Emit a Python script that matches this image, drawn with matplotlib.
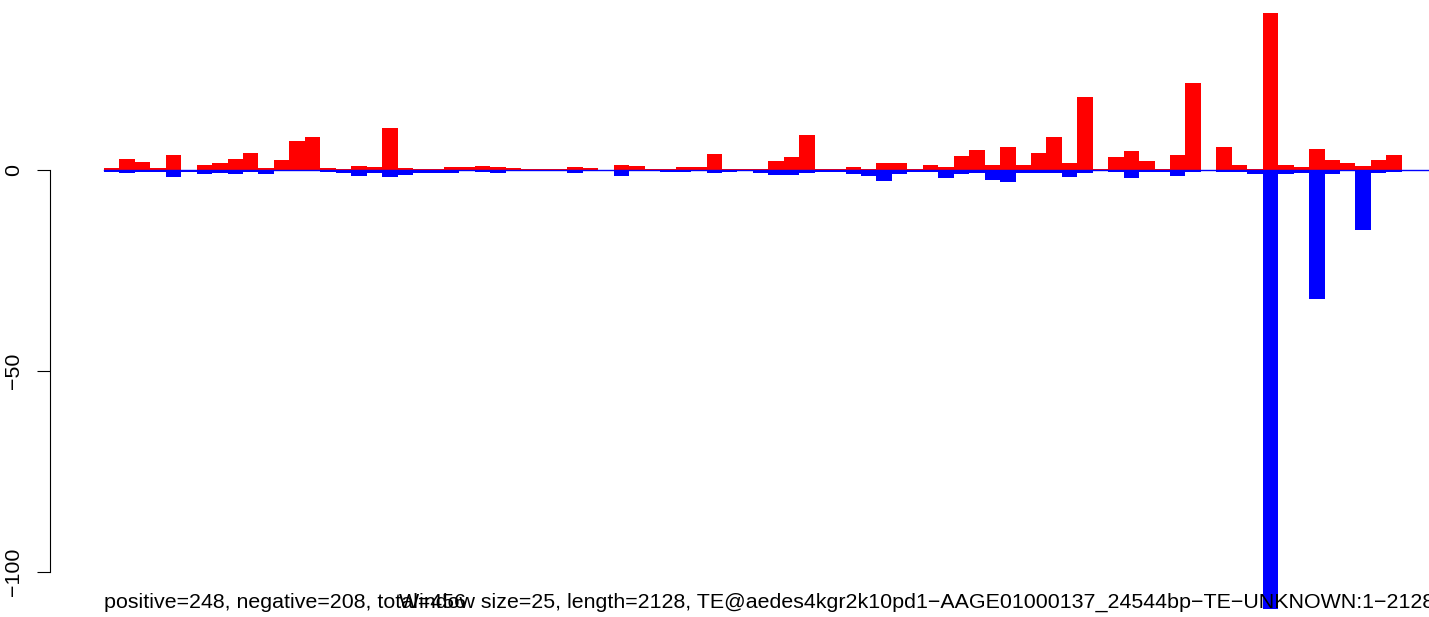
import numpy as np
import matplotlib
matplotlib.use("Agg")
import matplotlib.pyplot as plt

# per-window counts (window size 25)
positive = [
    0.6, 2.8, 2.1, 0.6, 3.8, 0.0, 1.3, 1.8, 2.8, 4.3,
    0.6, 2.6, 7.3, 8.3, 0.6, 0.3, 1.1, 0.8, 10.5, 0.6,
    0.3, 0.3, 0.8, 0.8, 1.1, 0.8, 0.6, 0.3, 0.3, 0.3,
    0.8, 0.6, 0.0, 1.3, 1.1, 0.3, 0.3, 0.8, 0.8, 4.1,
    0.3, 0.3, 0.3, 2.4, 3.4, 8.9, 0.2, 0.2, 0.7, 0.4,
    1.9, 1.7, 0.2, 1.4, 0.9, 3.6, 5.1, 1.4, 5.9, 1.2,
    4.4, 8.4, 1.7, 18.3, 0.3, 3.3, 4.8, 2.3, 0.3, 3.8,
    21.7, 0.0, 5.8, 1.3, 0.3, 39.1, 1.3, 0.8, 5.3, 2.6,
    1.8, 1.1, 2.6, 3.8,
]
negative = [
    0.5, 0.6, 0.4, 0.4, 1.6, 0.3, 0.8, 0.6, 0.8, 0.5,
    0.8, 0.2, 0.2, 0.2, 0.4, 0.6, 1.3, 0.6, 1.6, 1.1,
    0.6, 0.6, 0.6, 0.2, 0.4, 0.6, 0.2, 0.2, 0.2, 0.2,
    0.6, 0.0, 0.0, 1.3, 0.2, 0.2, 0.4, 0.4, 0.2, 0.6,
    0.4, 0.2, 0.6, 1.1, 1.1, 0.7, 0.3, 0.3, 0.8, 1.3,
    2.6, 0.8, 0.3, 0.3, 1.8, 0.8, 0.6, 2.3, 2.8, 0.6,
    0.6, 0.6, 1.6, 0.7, 0.2, 0.3, 1.9, 0.3, 0.3, 1.4,
    0.4, 0.0, 0.4, 0.4, 0.9, 109.2, 0.9, 0.7, 31.9, 0.9,
    0.2, 14.8, 0.7, 0.4,
]
y_ticks = [-100, -50, 0]
summary = "positive=248, negative=208, total=456"
title = ("Window size=25, length=2128, "
         "TE@aedes4kgr2k10pd1\u2212AAGE01000137_24544bp\u2212TE\u2212UNKNOWN:1\u22122128")

plt.rcParams['font.family'] = ['Liberation Sans', 'DejaVu Sans']

W, H = 1429, 617
fig = plt.figure(figsize=(W / 100, H / 100), dpi=100)
ax = fig.add_axes([0, 0, 1, 1])

x = np.arange(len(positive))
ax.bar(x, positive, width=1, align='edge', color='#ff0000', linewidth=0)
ax.bar(x, -np.array(negative), width=1, align='edge', color='#0000ff', linewidth=0)
ax.axhline(0, xmin=104 / W, xmax=1, color='#0000ff', linewidth=1)

# pixel mapping: bar 0 starts at x=104px, 15.45px per bar; y=0 at 170px, 4.02px per unit
ax.set_xlim(-104 / 15.45, (W - 104) / 15.45)
ax.set_ylim(-(H - 170.3) / 4.02, 170.3 / 4.02)

for side in ['top', 'right', 'bottom']:
    ax.spines[side].set_visible(False)
ax.spines['left'].set_position(('data', (50.5 - 104) / 15.45))
ax.spines['left'].set_bounds(-100, 0)
ax.spines['left'].set_linewidth(0.8)
ax.set_xticks([])
ax.set_yticks(y_ticks)
ax.tick_params(axis='y', length=9.6, width=0.8, labelsize=15.4,
               labelrotation=90, pad=10)
for lab in ax.get_yticklabels():
    lab.set_va('center')

fig.text(104 / W, (H - 608) / H, summary, fontsize=15.4, va='baseline')
fig.text(399 / W, (H - 608) / H, title, fontsize=15.4, va='baseline')

fig.savefig('out.png', dpi=100)
